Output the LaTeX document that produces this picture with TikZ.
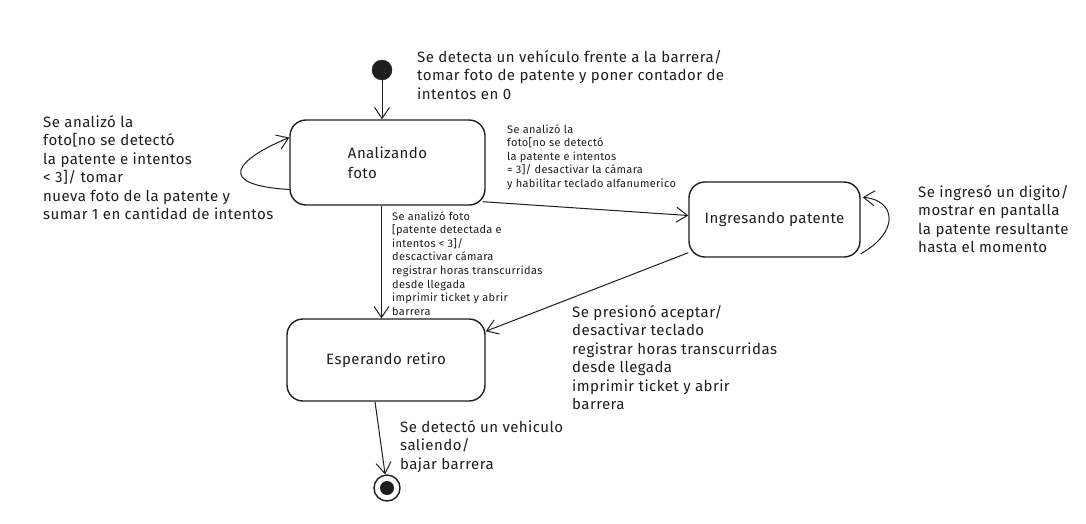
\documentclass[tikz,border=0pt]{standalone}
\usepackage{fontspec}
\setmainfont{Fira Sans}[LetterSpace=3]
\usetikzlibrary{arrows.meta}
\definecolor{ink}{HTML}{1E1E1E}
\begin{document}
\begin{tikzpicture}[x=1pt,y=-1pt,
  state/.style={draw=ink, text=ink, line width=1.4pt, rounded corners=16pt, inner sep=0pt,
    font=\fontsize{15}{19.5}\selectfont, align=left},
  big/.style={text=ink, anchor=north west, inner sep=0pt, align=left, font=\fontsize{15}{18.5}\selectfont},
  small/.style={text=ink, anchor=north west, inner sep=0pt, align=left, font=\fontsize{11}{13.6}\selectfont},
  arr/.style={draw=ink, line width=1pt, -{Straight Barb[length=11pt,width=15pt,line width=1pt]}},
]
\useasboundingbox[fill=white] (0,0) rectangle (1086,523);

% states
\node[state, minimum width=195pt, minimum height=85pt] (anal) at (387.5,162.5) {Analizando\\foto};
\node[state, minimum width=171pt, minimum height=75pt] (ingr) at (774.5,219.5) {Ingresando patente};
\node[state, minimum width=198pt, minimum height=82pt] (esp) at (386,360) {Esperando retiro};

% pseudo states
\node[circle, fill=ink, draw=ink, minimum size=20pt, inner sep=0pt] (init) at (382,70) {};
\node[circle, draw=ink, line width=1.4pt, minimum size=26pt, inner sep=0pt] (fin) at (387,488) {};
\node[circle, fill=ink, minimum size=14pt, inner sep=0pt] (finin) at (fin) {};

% labels
\node[big] (lTop) at (417,50) {Se detecta un vehículo frente a la barrera/\\tomar foto de patente y poner contador de\\intentos en 0};
\node[big] (lLoop) at (43,115) {Se analizó la\\foto[no se detectó\\la patente e intentos\\< 3]/ tomar\\nueva foto de la patente y\\sumar 1 en cantidad de intentos};
\node[small] (lAI) at (507,124) {Se analizó la\\foto[no se detectó\\la patente e intentos\\= 3]/ desactivar la cámara\\y habilitar teclado alfanumerico};
\node[small] (lAE) at (392,211) {Se analizó foto\\{[}patente detectada e\\intentos < 3]/\\descactivar cámara\\registrar horas transcurridas\\desde llegada\\imprimir ticket y abrir\\barrera};
\node[big] (lIngr) at (918,185) {Se ingresó un digito/\\mostrar en pantalla\\la patente resultante\\hasta el momento};
\node[big] (lIE) at (572,305) {Se presionó aceptar/\\desactivar teclado\\registrar horas transcurridas\\desde llegada\\imprimir ticket y abrir\\barrera};
\node[big] (lEF) at (400,420) {Se detectó un vehiculo\\saliendo/\\bajar barrera};

% transitions
\draw[arr] (init) -- (init |- anal.north);
\draw[arr] ([yshift=-27pt]anal.west) .. controls (215,185) and (235,160) .. ([yshift=25pt]anal.west);
\draw[arr] ([xshift=-3pt,yshift=4pt]anal.south east) -- ([yshift=4pt]ingr.west);
\draw[arr] ([xshift=-6pt]anal.south) -- ([xshift=-6pt]anal.south |- esp.north);
\draw[arr] ([yshift=5pt]ingr.south west) -- ([yshift=-13pt]esp.north east);
\draw[arr] ([yshift=4pt]ingr.south east) .. controls (900,232) and (896,200) .. ([xshift=2pt,yshift=-16pt]ingr.north east);
\draw[arr] ([xshift=-11pt]esp.south) -- (fin);
\end{tikzpicture}
\end{document}
